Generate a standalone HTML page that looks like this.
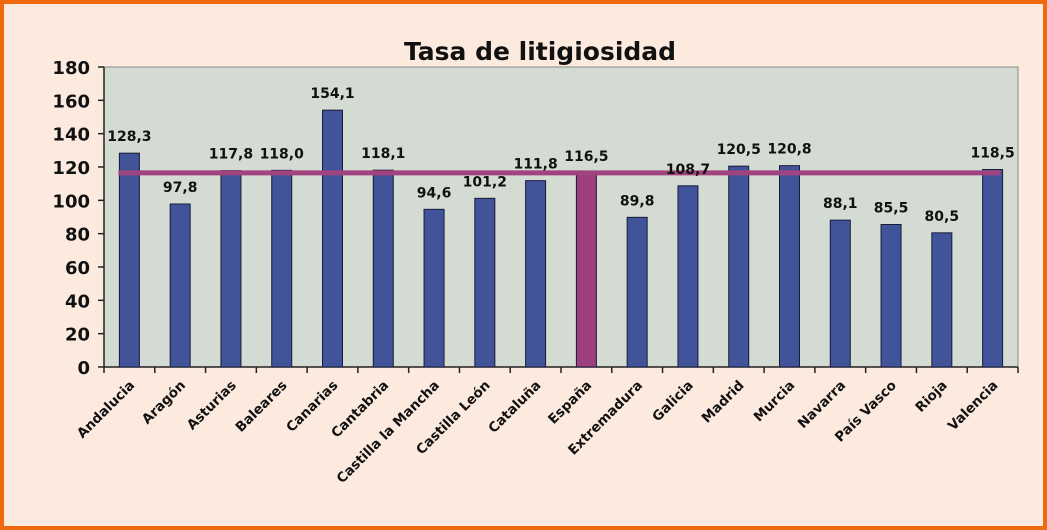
<!DOCTYPE html>
<html><head><meta charset="utf-8"><style>
body{margin:0;background:#fff}
svg{display:block;font-family:"DejaVu Sans","Liberation Sans",sans-serif}
</style></head><body>
<svg width="1047" height="530">
<rect x="2" y="2" width="1043" height="526" fill="#fdeadf" stroke="#ee6a0c" stroke-width="4"/>
<text x="540" y="60" text-anchor="middle" font-size="25" font-weight="bold" fill="#111">Tasa de litigiosidad</text>
<rect x="104" y="67" width="914" height="300" fill="#d3dbd2" stroke="#8a8a8a" stroke-width="1"/>
<g id="axes"></g>
<g id="bars"></g>
<g id="labels"></g>
</svg>
<script>
const categories=["Andalucia","Aragón","Asturias","Baleares","Canarias","Cantabria","Castilla la Mancha","Castilla León","Cataluña","España","Extremadura","Galicia","Madrid","Murcia","Navarra","País Vasco","Rioja","Valencia"];
const values=[128.3,97.8,117.8,118.0,154.1,118.1,94.6,101.2,111.8,116.5,89.8,108.7,120.5,120.8,88.1,85.5,80.5,118.5];
const valueLabels=["128,3","97,8","117,8","118,0","154,1","118,1","94,6","101,2","111,8","116,5","89,8","108,7","120,5","120,8","88,1","85,5","80,5","118,5"];
const yTicks=[0,20,40,60,80,100,120,140,160,180];
const average=116.5;
const highlight="España";
const NS="http://www.w3.org/2000/svg";
const X0=104,X1=1018,Y0=367,Y1=67,YMAX=180;
const bw=(X1-X0)/categories.length;
const y=v=>Y0-(v/YMAX)*(Y0-Y1);
const xc=i=>X0+bw*(i+0.5);
function mk(tag,attrs,parent){const e=document.createElementNS(NS,tag);for(const k in attrs)e.setAttribute(k,attrs[k]);document.getElementById(parent).appendChild(e);return e;}
yTicks.forEach(t=>{
 const l=mk("line",{x1:X0-6,x2:X0,y1:y(t),y2:y(t),stroke:"#222","stroke-width":1.5},"axes");
 
 
 const tx=mk("text",{x:X0-14,y:y(t)+7,"text-anchor":"end","font-size":18,"font-weight":"bold",fill:"#111"},"axes");
 tx.textContent=t;
 
 
});
const ax=mk("line",{x1:X0,x2:X0,y1:Y1,y2:Y0,stroke:"#222","stroke-width":1.5},"axes");


const bx=mk("line",{x1:X0,x2:X1,y1:Y0,y2:Y0,stroke:"#222","stroke-width":1.5},"axes");


for(let i=0;i<=categories.length;i++){
 const l=mk("line",{x1:X0+bw*i,x2:X0+bw*i,y1:Y0,y2:Y0+6,stroke:"#222","stroke-width":1.5},"axes");
 
 
}
categories.forEach((c,i)=>{
 const r=mk("rect",{x:xc(i)-10,y:y(values[i]),width:20,height:Y0-y(values[i]),fill:c===highlight?"#9c3f7c":"#41549a",stroke:"#1a1a3a","stroke-width":1},"bars");
 
 
 const vl=mk("text",{x:xc(i),y:y(values[i])-12,"text-anchor":"middle","font-size":14,"font-weight":"bold",fill:"#111"},"labels");
 vl.textContent=valueLabels[i];
 
 
 const cl=mk("text",{x:xc(i)+6,y:Y0+19,"text-anchor":"end","font-size":13.5,"font-weight":"bold",fill:"#111",transform:`rotate(-45 ${xc(i)+6} ${Y0+19})`},"labels");
 cl.textContent=c;
 
 
});
const avg=mk("line",{x1:xc(0)-11,x2:xc(categories.length-1)+8,y1:y(average),y2:y(average),stroke:"#a0437f","stroke-width":5},"bars");


</script>
</body></html>
